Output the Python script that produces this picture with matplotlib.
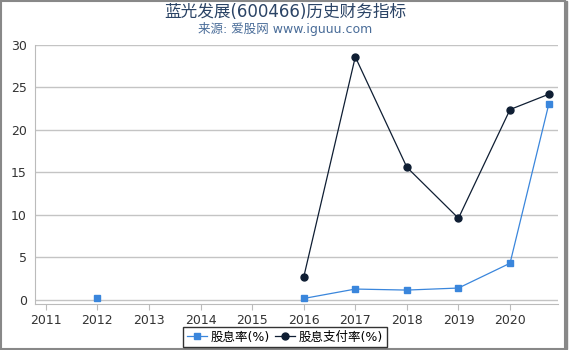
import numpy as np
import matplotlib
matplotlib.use("Agg")
import matplotlib.pyplot as plt
from matplotlib.patches import Rectangle

plt.rcParams['font.family'] = ['DejaVu Sans', 'Noto Sans CJK SC']

# data
years = [2011, 2012, 2013, 2014, 2015, 2016, 2017, 2018, 2019, 2020, 2020.75]
yield_pct = [np.nan, 0.15, np.nan, np.nan, np.nan, 0.15, 1.26, 1.14, 1.38, 4.3, 23.0]
payout_pct = [np.nan, np.nan, np.nan, np.nan, np.nan, 2.67, 28.6, 15.6, 9.6, 22.4, 24.2]
tick_years = list(range(2011, 2021))
y_ticks = [0, 5, 10, 15, 20, 25, 30]

fig = plt.figure(figsize=(5.7, 3.5), dpi=100)
ax = fig.add_axes([35 / 570, 46 / 350, 523 / 570, 259 / 350])

ax.plot(years, yield_pct, color="#3a86dc", marker="s", markersize=5,
        linewidth=0.9, label="股息率(%)")
ax.plot(years, payout_pct, color="#0f1e33", marker="o", markersize=5,
        linewidth=0.9, label="股息支付率(%)")

ax.set_xlim(2010.79, 2020.93)
ax.set_ylim(-0.5, 30)
ax.set_xticks(tick_years)
ax.set_yticks(y_ticks)
ax.tick_params(axis="both", labelsize=9, colors="#333333")
ax.tick_params(axis="x", length=4, color="#bbbbbb")
ax.tick_params(axis="y", length=0, pad=6)
ax.grid(axis="y", color="#c4c4c4", linewidth=1)
ax.set_axisbelow(True)
for s in ["top", "right"]:
    ax.spines[s].set_visible(False)
for s in ["left", "bottom"]:
    ax.spines[s].set_color("#bbbbbb")

fig.text(0.5, 0.965, "蓝光发展(600466)历史财务指标", ha="center", va="center",
         fontsize=12, color="#2b4466")
fig.text(0.5, 0.918, "来源: 爱股网 www.iguuu.com", ha="center", va="center",
         fontsize=9, color="#4a6d99")

leg = fig.legend(loc="center", bbox_to_anchor=(0.5, 0.037), ncol=2, fontsize=9,
                 frameon=True, fancybox=False, handlelength=1.6,
                 handletextpad=0.3, columnspacing=0.4, borderpad=0.3)
leg.get_frame().set_edgecolor("black")
leg.get_frame().set_linewidth(1)

fig.patches.append(Rectangle((0.002, 0.003), 0.99, 0.994, transform=fig.transFigure,
                             fill=False, edgecolor="#888888", linewidth=1.5))
fig.patches.append(Rectangle((0.991, 0.003), 0.004, 0.994, transform=fig.transFigure,
                             fill=True, color="#888888"))

fig.savefig("out.png", dpi=100)
